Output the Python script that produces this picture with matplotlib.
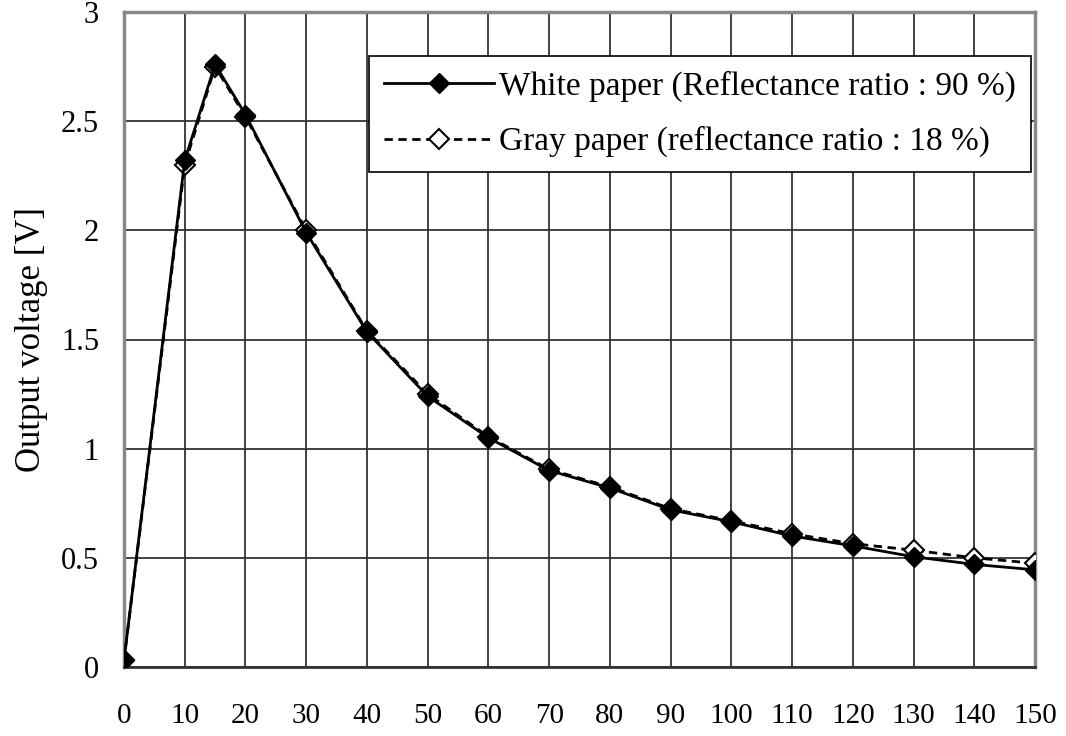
import matplotlib
matplotlib.use('Agg')
from matplotlib import pyplot as plt

# Data
distance = [0, 10, 15, 20, 30, 40, 50, 60, 70, 80, 90, 100, 110, 120, 130, 140, 150]
white_paper = [0.03, 2.32, 2.76, 2.53, 1.99, 1.535, 1.24, 1.05, 0.90, 0.82, 0.72, 0.665, 0.60, 0.555, 0.505, 0.47, 0.445]
gray_paper = [0.03, 2.30, 2.75, 2.52, 2.00, 1.54, 1.25, 1.055, 0.905, 0.825, 0.725, 0.67, 0.61, 0.565, 0.535, 0.50, 0.475]

xticks = list(range(0, 151, 10))
yticks = [0, 0.5, 1, 1.5, 2, 2.5, 3]
ytick_labels = ['0', '0.5', '1', '1.5', '2', '2.5', '3']

plt.rcParams['font.family'] = ['Liberation Serif', 'DejaVu Serif']

fig = plt.figure(figsize=(10.66, 7.36), dpi=100)
ax = fig.add_axes([124 / 1066, 1 - 667 / 736, (1035 - 124) / 1066, (667 - 12) / 736])

ax.plot(distance, gray_paper, color='black', linewidth=2, linestyle=(0, (3, 2)),
        marker='D', markersize=10, markerfacecolor='white', markeredgecolor='black',
        markeredgewidth=1.5, label='Gray paper (reflectance ratio : 18 %)', zorder=3)
ax.plot(distance, white_paper, color='black', linewidth=2, marker='D', markersize=10.5,
        markerfacecolor='black', markeredgecolor='black',
        label='White paper (Reflectance ratio : 90 %)', zorder=4)

ax.set_xlim(0, 150)
ax.set_ylim(0, 3)
ax.set_xticks(xticks)
ax.set_xticklabels([str(t) for t in xticks])
ax.set_yticks(yticks)
ax.set_yticklabels(ytick_labels)
ax.tick_params(length=0, labelsize=22)
ax.tick_params(axis='x', labelsize=21, pad=26)
ax.tick_params(axis='y', pad=18)
ax.grid(True, color='#333333', linewidth=1.3)
ax.set_axisbelow(True)
for side in ['left', 'right', 'top']:
    ax.spines[side].set_color('#888888')
    ax.spines[side].set_linewidth(2.5)
ax.spines['bottom'].set_color('#333333')
ax.spines['bottom'].set_linewidth(2)

ax.set_ylabel('Output voltage [V]', fontsize=25, labelpad=9)

handles, labels = ax.get_legend_handles_labels()
leg = ax.legend(handles[::-1], labels[::-1], loc='upper right', bbox_to_anchor=(0.996, 0.933),
                fontsize=24, frameon=True, fancybox=False, framealpha=1,
                edgecolor='black', handlelength=3.3, handletextpad=0.15,
                borderpad=0.45, labelspacing=0.72, borderaxespad=0)
leg.get_frame().set_linewidth(1.2)

plt.savefig('out.png', dpi=100)
